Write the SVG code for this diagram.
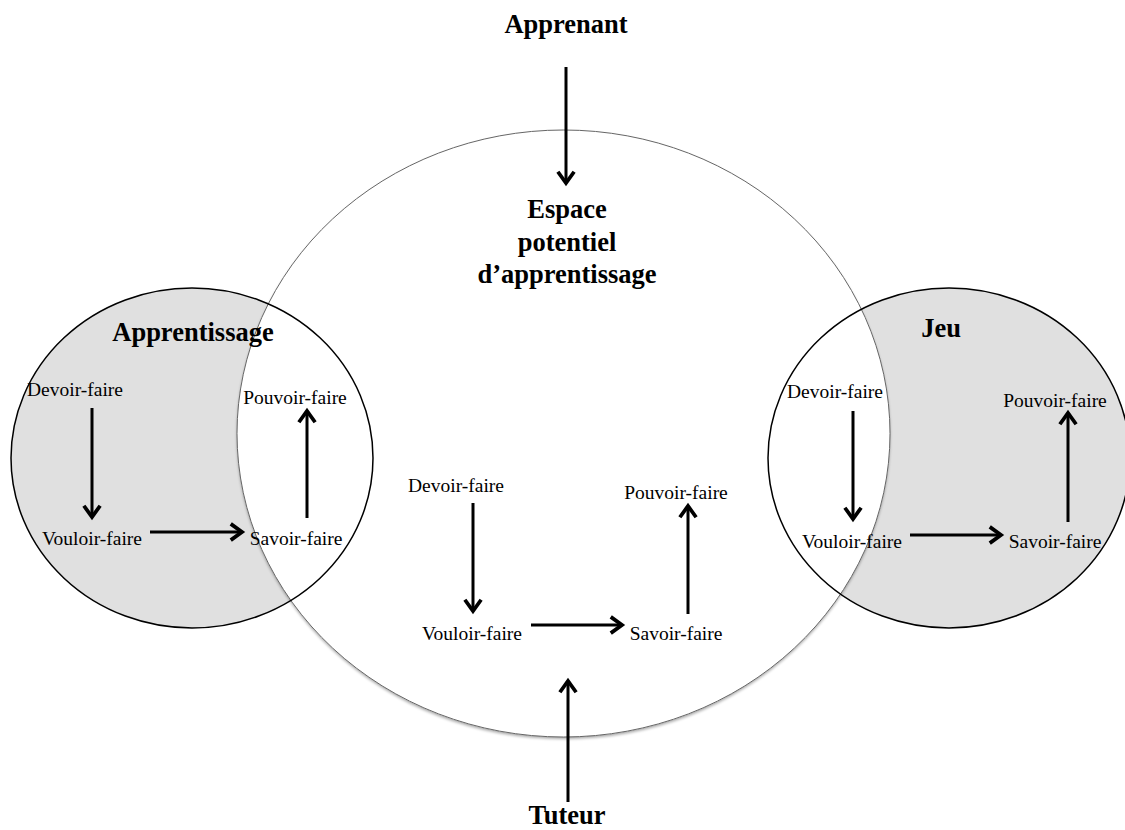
<svg xmlns="http://www.w3.org/2000/svg" width="1125" height="830" viewBox="0 0 1125 830">
<defs>
<marker id="ah" markerUnits="userSpaceOnUse" markerWidth="20" markerHeight="20" viewBox="-12 -8 14 16" refX="0" refY="0" orient="auto">
<path d="M-9,-6.5 L0,0 L-9,6.5" fill="none" stroke="#000" stroke-width="3"/>
</marker>
<filter id="sh" x="-5%" y="-5%" width="110%" height="112%">
<feGaussianBlur in="SourceAlpha" stdDeviation="1.5"/>
<feOffset dy="2"/>
<feComponentTransfer><feFuncA type="linear" slope="0.35"/></feComponentTransfer>
<feMerge><feMergeNode/><feMergeNode in="SourceGraphic"/></feMerge>
</filter>
</defs>
<style>
.bold{font-family:"Liberation Serif",serif;font-weight:bold;font-size:26.5px;text-anchor:middle;fill:#000}
.lbl{font-family:"Liberation Serif",serif;font-size:19.5px;text-anchor:middle;fill:#000}
.arr{stroke:#000;stroke-width:3;fill:none;marker-end:url(#ah)}
.sm{stroke:#000;stroke-width:1.5;fill:none}
</style>
<rect width="1125" height="830" fill="#fff"/>
<g id="fills">
<ellipse cx="192" cy="458" rx="181" ry="170" fill="#e0e0e0"/>
<ellipse cx="949" cy="458" rx="181" ry="170" fill="#e0e0e0"/>
<ellipse cx="563.5" cy="433.5" rx="326.5" ry="303.5" fill="#fff" filter="url(#sh)"/>
</g>
<g id="outlines">
<ellipse cx="563.5" cy="433.5" rx="326.5" ry="303.5" fill="none" stroke="#666" stroke-width="1"/>
<ellipse class="sm" cx="192" cy="458" rx="181" ry="170"/>
<ellipse class="sm" cx="949" cy="458" rx="181" ry="170"/>
</g>
<g id="apprenant"><text class="bold" x="566" y="33">Apprenant</text></g>
<g id="tuteur"><text class="bold" x="567" y="824">Tuteur</text></g>
<g id="espace">
<text class="bold" x="567" y="218">Espace</text>
<text class="bold" x="567" y="251">potentiel</text>
<text class="bold" x="567" y="283">d’apprentissage</text>
</g>
<g id="apprentissage">
<text class="bold" x="193" y="341">Apprentissage</text>
<text class="lbl" x="75" y="396">Devoir-faire</text>
<text class="lbl" x="295" y="404">Pouvoir-faire</text>
<text class="lbl" x="92" y="545">Vouloir-faire</text>
<text class="lbl" x="296" y="545">Savoir-faire</text>
</g>
<g id="jeu">
<text class="bold" x="941" y="337">Jeu</text>
<text class="lbl" x="835" y="398">Devoir-faire</text>
<text class="lbl" x="1055" y="407">Pouvoir-faire</text>
<text class="lbl" x="852" y="548">Vouloir-faire</text>
<text class="lbl" x="1055" y="548">Savoir-faire</text>
</g>
<g id="centre">
<text class="lbl" x="456" y="492">Devoir-faire</text>
<text class="lbl" x="676" y="499">Pouvoir-faire</text>
<text class="lbl" x="472" y="640">Vouloir-faire</text>
<text class="lbl" x="676" y="640">Savoir-faire</text>
</g>
<g id="connectors">
<line class="arr" x1="566" y1="67" x2="566" y2="183"/>
<line class="arr" x1="568" y1="802" x2="568" y2="681"/>
<line class="arr" x1="92" y1="408" x2="92" y2="517"/>
<line class="arr" x1="150" y1="532" x2="242" y2="532"/>
<line class="arr" x1="307" y1="518" x2="307" y2="411"/>
<line class="arr" x1="853" y1="411" x2="853" y2="519"/>
<line class="arr" x1="910" y1="535" x2="1001" y2="535"/>
<line class="arr" x1="1068" y1="522" x2="1068" y2="413"/>
<line class="arr" x1="473" y1="503" x2="473" y2="611"/>
<line class="arr" x1="531" y1="625" x2="622" y2="625"/>
<line class="arr" x1="688" y1="614" x2="688" y2="506"/>
</g>
</svg>
